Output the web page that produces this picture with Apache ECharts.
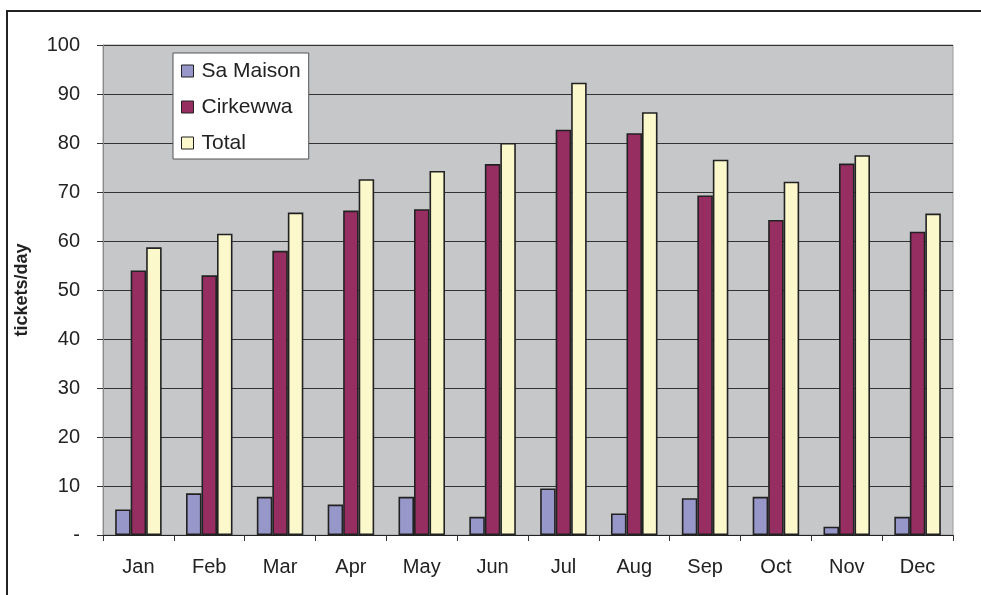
<!DOCTYPE html>
<html>
<head>
<meta charset="utf-8">
<script src="https://cdn.jsdelivr.net/npm/echarts@6/dist/echarts.min.js"></script>
<style>
html,body{margin:0;padding:0;background:#fff;}
#chart{width:981px;height:595px;}
</style>
</head>
<body>
<div id="chart"></div>
<script>
var categories = ['Jan','Feb','Mar','Apr','May','Jun','Jul','Aug','Sep','Oct','Nov','Dec'];
var saMaison = [5.2, 8.5, 7.8, 6.2, 7.8, 3.7, 9.5, 4.4, 7.5, 7.8, 1.7, 3.7];
var cirkewwa = [54.0, 53.0, 58.0, 66.2, 66.5, 75.7, 82.7, 82.0, 69.3, 64.3, 75.8, 61.9];
var total = [58.7, 61.5, 65.8, 72.6, 74.3, 80.0, 92.3, 86.3, 76.6, 72.1, 77.5, 65.6];
var seriesNames = ['Sa Maison', 'Cirkewwa', 'Total'];
var seriesColors = ['#9797c9', '#962e62', '#fbf8cc'];
var yAxisName = 'tickets/day';

var font = 'Liberation Sans, Arial, sans-serif';
var chart = echarts.init(document.getElementById('chart'), null, {renderer: 'canvas'});
var seriesData = [saMaison, cirkewwa, total];
var series = seriesData.map(function (d, i) {
  return {
    name: seriesNames[i],
    type: 'bar',
    data: d,
    barWidth: 15.5,
    barGap: '0%',
    itemStyle: {color: seriesColors[i], borderColor: '#222', borderWidth: 1.6},
    emphasis: {disabled: true}
  };
});

chart.setOption({
  animation: false,
  backgroundColor: '#ffffff',
  graphic: [{
    type: 'rect',
    shape: {x: 7, y: 11, width: 1000, height: 620},
    style: {fill: 'none', stroke: '#222', lineWidth: 2},
    z: 100
  }],
  grid: {
    left: 103, right: 28, top: 45, bottom: 60,
    show: true, backgroundColor: '#c6c7c9', borderColor: '#9a9a9a', borderWidth: 1
  },
  legend: {
    orient: 'vertical',
    left: 173, top: 53,
    padding: [6, 8, 4, 8],
    itemGap: 12,
    itemWidth: 12, itemHeight: 12,
    icon: 'rect',
    backgroundColor: '#ffffff',
    borderColor: '#555',
    borderWidth: 1,
    borderRadius: 0,
    textStyle: {fontFamily: font, fontSize: 21, color: '#222', lineHeight: 24, padding: [0, 0, 0, 3]},
    itemStyle: {borderColor: '#222', borderWidth: 1},
    data: seriesNames
  },
  xAxis: {
    type: 'category',
    data: categories,
    axisLine: {show: true, lineStyle: {color: '#222', width: 1}},
    axisTick: {show: true, length: 6, lineStyle: {color: '#333'}},
    axisLabel: {fontFamily: font, fontSize: 20, color: '#222', margin: 22}
  },
  yAxis: {
    type: 'value',
    min: 0, max: 100, interval: 10,
    name: yAxisName,
    nameLocation: 'middle',
    nameRotate: 90,
    nameGap: 72,
    nameTextStyle: {fontFamily: font, fontSize: 18, fontWeight: 'bold', color: '#222'},
    axisLine: {show: true, lineStyle: {color: '#8a8a8a', width: 1}},
    axisTick: {show: true, length: 6, lineStyle: {color: '#333'}},
    axisLabel: {
      fontFamily: font, fontSize: 20, color: '#222', margin: 23,
      formatter: function (v) { return v === 0 ? '-' : String(v); }
    },
    splitLine: {show: true, lineStyle: {color: '#333', width: 1}}
  },
  series: series
});
</script>
</body>
</html>
